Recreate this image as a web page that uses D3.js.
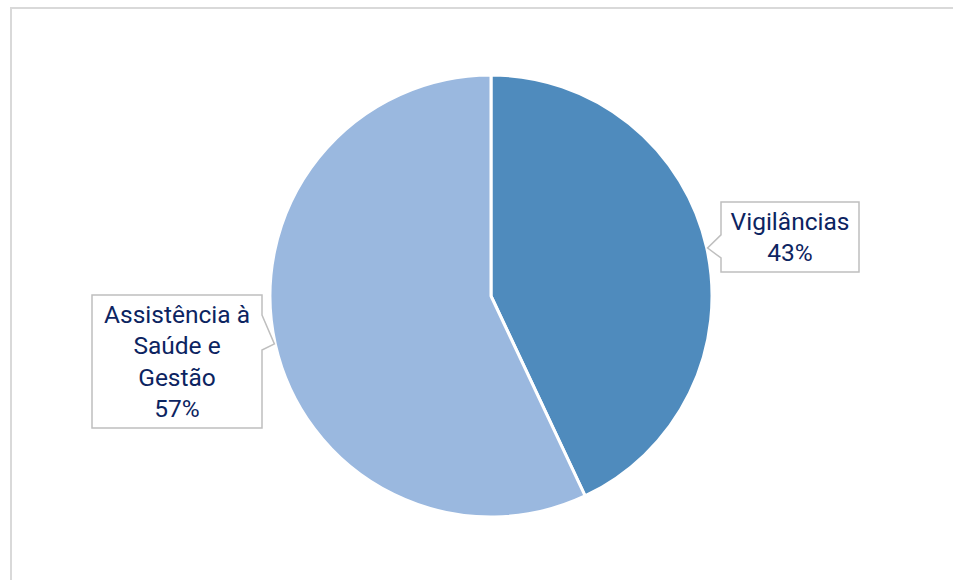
<!DOCTYPE html>
<html>
<head>
<meta charset="utf-8">
<script src="https://cdn.jsdelivr.net/npm/d3@7"></script>
<style>
  body { margin: 0; background: #fff; }
  svg { display: block; }
</style>
</head>
<body>
<div id="main"></div>
<script>
// Données
const categories = ["Vigilâncias", "Assistência à Saúde e Gestão"];
const valeurs = [43, 57];
const etiquettes = [["Vigilâncias", "43%"], ["Assistência à", "Saúde e", "Gestão", "57%"]];
const couleurs = ["#4f8bbd", "#9ab8df"];

const width = 954, height = 580;
const cx = 491, cy = 296, radius = 221;

// callout boxes: position of the box relative to the pie centre
const boites = [
  {x: 230, y: -94, w: 138, h: 70, pointe: "left"},
  {x: -399, y: -1, w: 170, h: 133, pointe: "right"}
];

function main() {
  const svg = d3.create("svg")
    .attr("width", width)
    .attr("height", height);

  // cadre
  svg.append("path")
    .attr("d", `M11,${height} V8 H953`)
    .attr("fill", "none")
    .attr("stroke", "#d9d9d9")
    .attr("stroke-width", 2);

  const pie = d3.pie().sort(null).value(d => d)(valeurs);
  const arc = d3.arc().innerRadius(0).outerRadius(radius);

  const g = svg.append("g").attr("transform", `translate(${cx},${cy})`);

  g.selectAll("path.part")
    .data(pie)
    .join("path")
      .attr("class", "part")
      .attr("d", arc)
      .attr("fill", (d, i) => couleurs[i])
      .attr("stroke", "#fff")
      .attr("stroke-width", 3)
      .attr("stroke-linejoin", "round");

  // étiquettes
  const arcLabel = d3.arc().innerRadius(radius * 0.995).outerRadius(radius * 0.995);
  const lh = 31.5;

  pie.forEach((d, i) => {
    const b = boites[i];
    const [tx, ty] = arcLabel.centroid(d);
    let p;
    if (b.pointe === "left") {
      const y0 = b.y + b.h * 0.47, y1 = b.y + b.h * 0.8;
      p = `M${b.x},${b.y} H${b.x + b.w} V${b.y + b.h} H${b.x} V${y1} L${tx + 2},${ty} L${b.x},${y0} Z`;
    } else {
      const y0 = b.y + 20, y1 = b.y + 55;
      p = `M${b.x},${b.y} H${b.x + b.w} V${y0} L${tx - 2},${ty} L${b.x + b.w},${y1} V${b.y + b.h} H${b.x} Z`;
    }
    g.append("path")
      .attr("d", p)
      .attr("fill", "#fff")
      .attr("stroke", "#bfbfbf")
      .attr("stroke-width", 1.5);

    const lignes = etiquettes[i];
    const t = g.append("text")
      .attr("text-anchor", "middle")
      .attr("font-family", "Roboto, 'Noto Sans', sans-serif")
      .attr("font-size", 24.5)
      .attr("fill", "#0c2461");
    const y0 = b.y + b.h / 2 - (lignes.length - 1) * lh / 2;
    lignes.forEach((l, k) => {
      t.append("tspan")
        .attr("x", b.x + b.w / 2)
        .attr("y", y0 + k * lh)
        .attr("dy", "0.35em")
        .text(l);
    });
  });

  return svg.node();
}

document.getElementById("main").appendChild(main());
</script>
</body>
</html>
